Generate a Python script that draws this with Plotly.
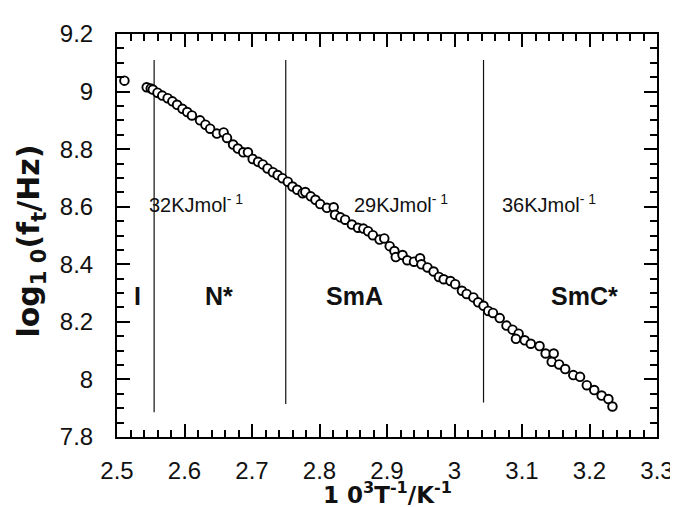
import plotly.graph_objects as go

# data: 10^3/T (K^-1) vs log10(f_t/Hz)
inv_T = [2.511, 2.544, 2.550, 2.553, 2.560, 2.567, 2.575, 2.582, 2.589, 2.597,
         2.604, 2.611, 2.623, 2.631, 2.638, 2.648, 2.658, 2.663, 2.672, 2.679,
         2.687, 2.694, 2.701, 2.709, 2.716, 2.723, 2.731, 2.738, 2.745, 2.753,
         2.760, 2.767, 2.775, 2.779, 2.787, 2.794, 2.801, 2.811, 2.821, 2.823,
         2.831, 2.838, 2.848, 2.857, 2.865, 2.872, 2.879, 2.889, 2.896, 2.904,
         2.911, 2.913, 2.923, 2.930, 2.940, 2.949, 2.951, 2.960, 2.969, 2.977,
         2.984, 2.994, 3.001, 3.011, 3.018, 3.028, 3.035, 3.043, 3.050, 3.057,
         3.067, 3.077, 3.086, 3.095, 3.091, 3.104, 3.113, 3.126, 3.135, 3.147,
         3.144, 3.155, 3.164, 3.176, 3.186, 3.196, 3.207, 3.218, 3.228, 3.234]
log_f = [9.038, 9.015, 9.011, 9.007, 8.996, 8.986, 8.977, 8.966, 8.954, 8.940,
         8.929, 8.917, 8.900, 8.885, 8.871, 8.854, 8.858, 8.839, 8.816, 8.802,
         8.789, 8.789, 8.766, 8.756, 8.747, 8.733, 8.720, 8.710, 8.699, 8.687,
         8.670, 8.659, 8.647, 8.651, 8.636, 8.624, 8.609, 8.596, 8.598, 8.572,
         8.563, 8.555, 8.538, 8.527, 8.524, 8.515, 8.501, 8.486, 8.490, 8.463,
         8.446, 8.425, 8.432, 8.414, 8.409, 8.421, 8.400, 8.389, 8.375, 8.356,
         8.348, 8.342, 8.331, 8.308, 8.297, 8.285, 8.268, 8.256, 8.238, 8.231,
         8.213, 8.187, 8.173, 8.159, 8.141, 8.136, 8.124, 8.116, 8.090, 8.090,
         8.061, 8.052, 8.036, 8.015, 8.009, 7.980, 7.963, 7.944, 7.932, 7.906]

# phase boundaries
boundary_x = [2.555, 2.750, 3.043]
boundary_top = [9.11, 9.11, 9.11]
boundary_bottom = [7.886, 7.915, 7.92]

# activation energies
energy_labels = ["32KJmol<sup>- 1</sup>", "29KJmol<sup>- 1</sup>", "36KJmol<sup>- 1</sup>"]
energy_x = [2.544, 2.848, 3.067]
energy_y = [8.61, 8.61, 8.61]

# phases
phase_labels = ["I", "N*", "SmA", "SmC*"]
phase_x = [2.531, 2.651, 2.852, 3.193]
phase_y = [8.29, 8.29, 8.29, 8.29]

x_ticks = [2.5, 2.6, 2.7, 2.8, 2.9, 3.0, 3.1, 3.2, 3.3]
x_ticktext = ["2.5", "2.6", "2.7", "2.8", "2.9", "3", "3.1", "3.2", "3.3"]
y_ticks = [7.8, 8.0, 8.2, 8.4, 8.6, 8.8, 9.0, 9.2]
y_ticktext = ["7.8", "8", "8.2", "8.4", "8.6", "8.8", "9", "9.2"]

FONT = "Liberation Sans, Arial, Helvetica, sans-serif"
WIDE = "DejaVu Sans, Verdana, sans-serif"

fig = go.Figure()

for bx, bt, bb in zip(boundary_x, boundary_top, boundary_bottom):
    fig.add_trace(go.Scatter(x=[bx, bx], y=[bb, bt], mode="lines",
                             line=dict(color="#111", width=1.2),
                             hoverinfo="skip", showlegend=False))

fig.add_trace(go.Scatter(
    x=inv_T, y=log_f, mode="markers", showlegend=False,
    marker=dict(symbol="circle", size=8.6, color="white",
                line=dict(color="black", width=1.9))))

for t, x, y in zip(energy_labels, energy_x, energy_y):
    fig.add_annotation(x=x, y=y, xref="x", yref="y", text=t, showarrow=False,
                       xanchor="left", yanchor="middle",
                       font=dict(family=FONT, size=20, color="#111"))

for t, x, y in zip(phase_labels, phase_x, phase_y):
    fig.add_annotation(x=x, y=y, xref="x", yref="y", text="<b>" + t + "</b>",
                       showarrow=False, xanchor="center", yanchor="middle",
                       font=dict(family=FONT, size=25, color="#111"))

# axis titles
fig.add_annotation(x=0.5, y=0, xref="paper", yref="paper",
                   text="<b>1 0<sup>3</sup>T<sup>-1</sup>/K<sup>-1</sup></b>",
                   showarrow=False, xanchor="center", yanchor="middle", yshift=-56,
                   font=dict(family=WIDE, size=23, color="#111"))
fig.add_annotation(x=0, y=0.485, xref="paper", yref="paper",
                   text="<b>log<sub>1 0</sub>(f<sub>t</sub>/Hz)</b>",
                   showarrow=False, xanchor="center", yanchor="middle", xshift=-86,
                   textangle=-90,
                   font=dict(family=WIDE, size=30, color="#111"))

axis_common = dict(showline=True, linecolor="black", linewidth=2, mirror="ticks",
                   ticks="inside", ticklen=13, tickwidth=1.8, tickcolor="black",
                   showgrid=False, zeroline=False,
                   tickfont=dict(family=FONT, size=24, color="#111"))

fig.update_xaxes(range=[2.5, 3.3], tickvals=x_ticks, ticktext=x_ticktext,
                 ticklabelstandoff=11,
                 minor=dict(dtick=0.02, tick0=2.5, ticks="inside", ticklen=7,
                            tickwidth=1.5, tickcolor="black", showgrid=False),
                 **axis_common)
fig.update_yaxes(range=[7.8, 9.2], tickvals=y_ticks, ticktext=y_ticktext,
                 ticklabelstandoff=17,
                 minor=dict(dtick=0.05, tick0=7.8, ticks="inside", ticklen=7,
                            tickwidth=1.5, tickcolor="black", showgrid=False),
                 **axis_common)

fig.update_layout(width=678, height=507, plot_bgcolor="white", paper_bgcolor="white",
                  margin=dict(l=109, r=22, t=23, b=78), showlegend=False)

fig.write_html("out.html")
